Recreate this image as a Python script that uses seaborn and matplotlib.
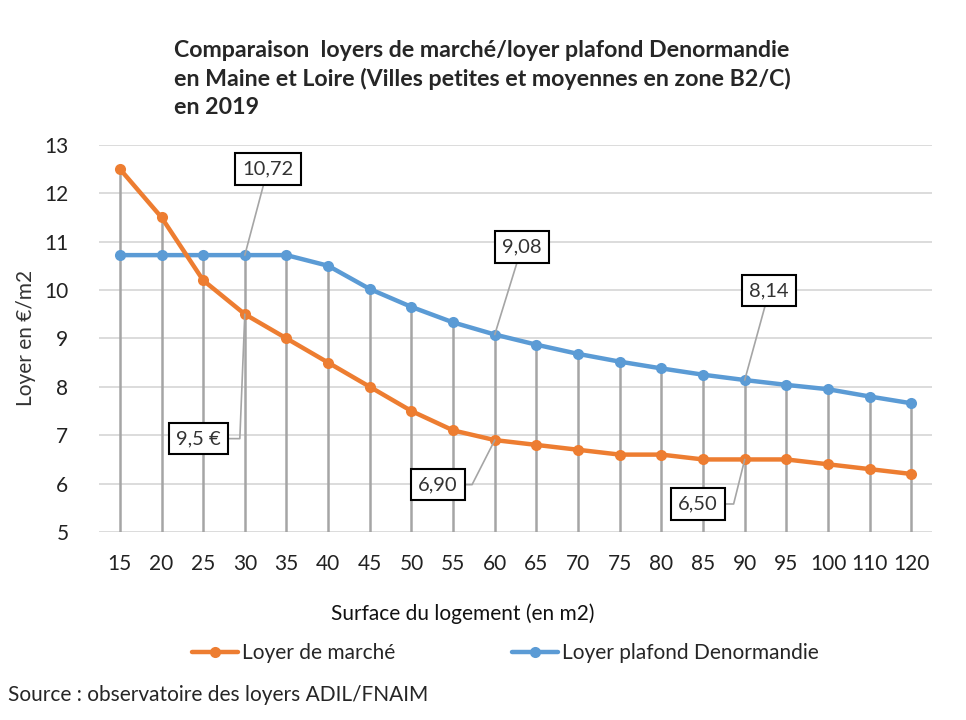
import matplotlib
matplotlib.use("Agg")
import matplotlib.pyplot as plt
import numpy as np
import pandas as pd
import seaborn as sns

# Data
surfaces = ['15', '20', '25', '30', '35', '40', '45', '50', '55', '60',
            '65', '70', '75', '80', '85', '90', '95', '100', '110', '120']
loyer_marche = [12.5, 11.5, 10.2, 9.5, 9.0, 8.5, 8.0, 7.5, 7.1, 6.9,
                6.8, 6.7, 6.6, 6.6, 6.5, 6.5, 6.5, 6.4, 6.3, 6.2]
loyer_plafond = [10.72, 10.72, 10.72, 10.72, 10.72, 10.5, 10.02, 9.65, 9.33, 9.08,
                 8.87, 8.68, 8.52, 8.38, 8.25, 8.14, 8.04, 7.95, 7.80, 7.66]
series_names = ['Loyer de marché', 'Loyer plafond Denormandie']
y_ticks = [5, 6, 7, 8, 9, 10, 11, 12, 13]

# callouts: (text, surface, series index)
callouts = [('10,72', '30', 1), ('9,5 €', '30', 0), ('9,08', '60', 1),
            ('6,90', '60', 0), ('8,14', '90', 1), ('6,50', '90', 0)]

orange = '#ED7D31'
blue = '#5B9BD5'

sns.set_style("white")
plt.rcParams['font.family'] = ['Lato', 'DejaVu Sans']

pos = np.arange(len(surfaces))
df = pd.DataFrame({
    'pos': np.concatenate([pos, pos]),
    'loyer': loyer_marche + loyer_plafond,
    'serie': [series_names[0]] * len(pos) + [series_names[1]] * len(pos),
})

fig = plt.figure(figsize=(9.66, 7.2), dpi=100)
ax = fig.add_axes([0.1025, 0.261, 0.8625, 0.538])

# drop lines
tops = np.maximum(loyer_marche, loyer_plafond)
ax.vlines(pos, y_ticks[0], tops, color='#A5A5A5', lw=1.8, zorder=1)

sns.lineplot(data=df[df.serie == series_names[1]], x='pos', y='loyer', color=blue,
             marker='o', markersize=8, markeredgewidth=0, linewidth=3.2, ax=ax,
             label=series_names[1], zorder=3)
sns.lineplot(data=df[df.serie == series_names[0]], x='pos', y='loyer', color=orange,
             marker='o', markersize=8, markeredgewidth=0, linewidth=3.2, ax=ax,
             label=series_names[0], zorder=4)

ax.set_xlim(-0.5, len(surfaces) - 0.5)
ax.set_ylim(y_ticks[0], y_ticks[-1])
ax.set_yticks(y_ticks)
ax.set_xticks(pos)
ax.set_xticklabels(surfaces)
ax.grid(axis='y', color='#D9D9D9', lw=1.3)
ax.grid(axis='x', visible=False)
for s in ax.spines.values():
    s.set_visible(False)
ax.tick_params(axis='y', length=0, pad=22, labelsize=15, labelcolor='#222222')
ax.tick_params(axis='x', length=0, pad=16, labelsize=15, labelcolor='#222222')

ax.set_ylabel('Loyer en €/m2', fontsize=15, color='#333333')
ax.set_xlabel('Surface du logement (en m2)', fontsize=15, color='#111111')
ax.yaxis.set_label_coords(-0.0756, 0.5)
ax.xaxis.set_label_coords(0.436, -0.183)

# callouts
label_pos = {'10,72': (3.55, 12.50), '9,5 €': (1.88, 6.93), '9,08': (9.65, 10.89),
             '6,90': (7.63, 5.98), '8,14': (15.59, 9.99), '6,50': (13.88, 5.58)}
leader_angle = {'9,5 €': 87.7, '6,90': 63, '6,50': 76}
series_vals = [loyer_marche, loyer_plafond]
for txt, surf, si in callouts:
    i = surfaces.index(surf)
    y = series_vals[si][i]
    tx, ty = label_pos[txt]
    if txt in leader_angle:
        conn = 'angle,angleA=0,angleB=%s,rad=0' % leader_angle[txt]
    else:
        conn = 'arc3,rad=0'
    ax.annotate(txt, xy=(i, y), xytext=(tx, ty), ha='center', va='center',
                fontsize=14.5, color='#333333', zorder=6,
                bbox=dict(boxstyle='square,pad=0.36', fc='white', ec='black', lw=1.5),
                arrowprops=dict(arrowstyle='-', color='#A5A5A5', lw=1.2,
                                connectionstyle=conn, shrinkA=0, shrinkB=0))

# legend
h, l = ax.get_legend_handles_labels()
ax.get_legend().remove()
order = [l.index(series_names[0]), l.index(series_names[1])]
fig.legend([h[k] for k in order], [l[k] for k in order], loc='center',
           bbox_to_anchor=(0.523, 0.093), ncol=2, frameon=False, fontsize=15,
           handlelength=2.2, handletextpad=0.2, columnspacing=5.6)

fig.text(0.18, 0.945, 'Comparaison  loyers de marché/loyer plafond Denormandie\n'
         'en Maine et Loire (Villes petites et moyennes en zone B2/C)\nen 2019',
         ha='left', va='top', fontsize=16.7, fontweight='bold', linespacing=1.41)
fig.text(0.008, 0.035, 'Source : observatoire des loyers ADIL/FNAIM', ha='left',
         va='center', fontsize=15)

fig.savefig('out.png', dpi=100)
